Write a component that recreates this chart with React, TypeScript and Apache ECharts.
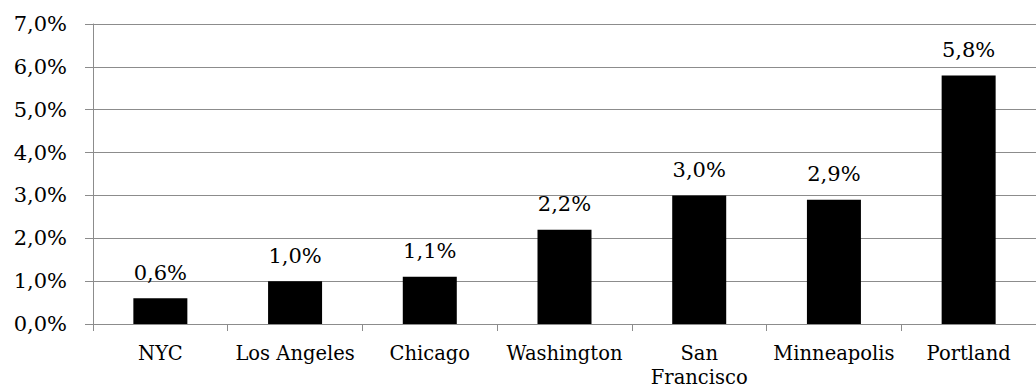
import React, { useEffect, useRef } from "react";
import * as echarts from "echarts";

const categories = ["NYC", "Los Angeles", "Chicago", "Washington", "San\nFrancisco", "Minneapolis", "Portland"];
const values = [0.6, 1.0, 1.1, 2.2, 3.0, 2.9, 5.8];

const fmt = (v: number) => v.toFixed(1).replace(".", ",") + "%";

export default function App() {
  const ref = useRef<HTMLDivElement>(null);
  useEffect(() => {
    if (!ref.current) return;
    const chart = echarts.init(ref.current, null, { renderer: "svg" });
    const font = "DejaVu Serif";
    chart.setOption({
      animation: false,
      backgroundColor: "#ffffff",
      grid: { left: 93, top: 24, width: 954, height: 300, containLabel: false },
      xAxis: {
        type: "category",
        data: categories,
        axisLine: { lineStyle: { color: "#8c8c8c", width: 1 } },
        axisTick: { show: true, length: 7, alignWithLabel: false, lineStyle: { color: "#8c8c8c" } },
        axisLabel: {
          color: "#000",
          fontFamily: font,
          fontSize: 19.5,
          margin: 17,
          lineHeight: 24,
          interval: 0,
        },
      },
      yAxis: {
        type: "value",
        min: 0,
        max: 7,
        interval: 1,
        axisLine: { show: true, lineStyle: { color: "#8c8c8c", width: 1 } },
        axisTick: { show: true, length: 8, lineStyle: { color: "#8c8c8c" } },
        splitLine: { show: true, lineStyle: { color: "#8c8c8c", width: 1 } },
        axisLabel: {
          color: "#000",
          fontFamily: font,
          fontSize: 21,
          margin: 26,
          formatter: (v: number) => fmt(v),
        },
      },
      series: [
        {
          type: "bar",
          data: values,
          barWidth: 54,
          itemStyle: { color: "#000" },
          label: {
            show: true,
            position: "top",
            distance: 15,
            color: "#000",
            fontFamily: font,
            fontSize: 21,
            formatter: (p: any) => fmt(p.value),
          },
        },
      ],
    });
    return () => chart.dispose();
  }, []);
  return (
    <div
      ref={ref}
      style={{ position: "fixed", left: 0, top: 0, width: 1036, height: 392, background: "#fff" }}
    />
  );
}
